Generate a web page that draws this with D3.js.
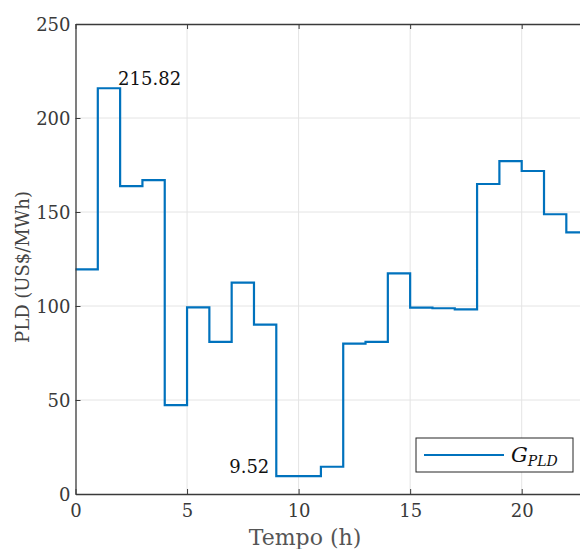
<!DOCTYPE html>
<html>
<head>
<meta charset="utf-8">
<script src="https://cdn.jsdelivr.net/npm/d3@7"></script>
<style>
  body { margin: 0; background: #fff; }
  svg { display: block; font-family: "DejaVu Serif", "Liberation Serif", serif; }
</style>
</head>
<body>
<div id="graphic"></div>
<script>
// hourly PLD prices (US$/MWh), step starts at each hour
const HOURS = [0, 1, 2, 3, 4, 5, 6, 7, 8, 9, 10, 11, 12, 13, 14, 15, 16, 17, 18, 19, 20, 21, 22, 23, 24];
const PLD = [119.5, 215.82, 163.8, 167.0, 47.3, 99.3, 80.9, 112.4, 90.1, 9.52, 9.52, 14.5, 80.0, 80.9, 117.4,
  99.1, 98.8, 98.2, 164.9, 177.1, 171.8, 148.8, 139.2, 139.2, 139.2];
const X_TICKS = [0, 5, 10, 15, 20];
const Y_TICKS = [0, 50, 100, 150, 200, 250];
const LABELS = [
  { hour: 2, value: 215.82, text: "215.82", anchor: "start" },
  { hour: 9, value: 9.52, text: "9.52", anchor: "end" }
];

const FONT = "'DejaVu Serif', 'Liberation Serif', serif";
const WIDTH = 580;
const HEIGHT = 549;
const LEFT = 75.5;
const TOP = 24;
const BOTTOM = 494;
const AXIS_COLOR = "#3a3a3a";
const GRID_COLOR = "#e4e4e4";
const LINE_COLOR = "#0072BD";

var svg = d3.select("#graphic")
  .append("svg")
  .attr("width", WIDTH)
  .attr("height", HEIGHT);

var xScale = d3.scaleLinear()
  .domain([0, 24])
  .range([LEFT, LEFT + 24 * 22.31]);

var yScale = d3.scaleLinear()
  .domain([0, 250])
  .range([BOTTOM, TOP]);

var right = xScale(24);

// grid
svg.append("g")
  .selectAll("line")
  .data(X_TICKS.slice(1))
  .join("line")
  .attr("x1", d => xScale(d)).attr("x2", d => xScale(d))
  .attr("y1", TOP).attr("y2", BOTTOM)
  .attr("stroke", GRID_COLOR);

svg.append("g")
  .selectAll("line")
  .data(Y_TICKS.slice(1, -1))
  .join("line")
  .attr("x1", LEFT).attr("x2", right)
  .attr("y1", d => yScale(d)).attr("y2", d => yScale(d))
  .attr("stroke", GRID_COLOR);

// step series
var series = HOURS.map((h, i) => ({ hour: h, value: PLD[i] }));

var line = d3.line()
  .x(d => xScale(d.hour))
  .y(d => yScale(d.value))
  .curve(d3.curveStepAfter);

svg.append("path")
  .datum(series)
  .attr("fill", "none")
  .attr("stroke", LINE_COLOR)
  .attr("stroke-width", 2.2)
  .attr("d", line);

// axes (ticks inward, box on top)
var xAxis = d3.axisBottom(xScale)
  .tickValues(X_TICKS)
  .tickSizeInner(-5)
  .tickSizeOuter(0)
  .tickPadding(10);

var yAxis = d3.axisLeft(yScale)
  .tickValues(Y_TICKS)
  .tickSizeInner(-5)
  .tickSizeOuter(0)
  .tickPadding(5);

var gx = svg.append("g")
  .attr("transform", `translate(0, ${BOTTOM})`)
  .call(xAxis);

var gy = svg.append("g")
  .attr("transform", `translate(${LEFT}, 0)`)
  .call(yAxis);

var gTop = svg.append("g")
  .attr("transform", `translate(0, ${TOP})`)
  .call(d3.axisTop(xScale).tickValues(X_TICKS).tickSizeInner(-5).tickSizeOuter(0).tickFormat(""));

[gx, gy, gTop].forEach(g => {
  g.attr("font-family", FONT).attr("font-size", 18);
  g.select(".domain").attr("stroke", AXIS_COLOR).attr("stroke-width", 1.3);
  g.selectAll(".tick line").attr("stroke", AXIS_COLOR);
  g.selectAll(".tick text").attr("fill", "#3a3a3a");
});

gy.selectAll(".tick text").attr("dy", "0.35em");

// axis labels
svg.append("text")
  .attr("x", 305)
  .attr("y", 545)
  .attr("text-anchor", "middle")
  .attr("fill", "#555")
  .attr("font-family", FONT)
  .attr("font-size", 22)
  .text("Tempo (h)");

svg.append("text")
  .attr("transform", "translate(29, 267) rotate(-90)")
  .attr("text-anchor", "middle")
  .attr("fill", "#444")
  .attr("font-family", FONT)
  .attr("font-size", 18)
  .text("PLD (US$/MWh)");

// value annotations
svg.append("g")
  .selectAll("text")
  .data(LABELS)
  .join("text")
  .attr("x", d => xScale(d.hour) + (d.anchor == "start" ? -2 : -7))
  .attr("y", d => yScale(d.value) - 3)
  .attr("text-anchor", d => d.anchor)
  .attr("fill", "#111")
  .attr("font-family", FONT)
  .attr("font-size", 18)
  .text(d => d.text);

// legend
var legend = svg.append("g")
  .attr("transform", "translate(416, 438)");

legend.append("rect")
  .attr("width", 157)
  .attr("height", 34)
  .attr("fill", "#fff")
  .attr("stroke", "#262626")
  .attr("stroke-width", 1);

legend.append("line")
  .attr("x1", 8).attr("x2", 88)
  .attr("y1", 17).attr("y2", 17)
  .attr("stroke", LINE_COLOR)
  .attr("stroke-width", 2.2);

var legendText = legend.append("text")
  .attr("x", 95)
  .attr("y", 24)
  .attr("fill", "#111")
  .attr("font-family", FONT)
  .attr("font-style", "italic")
  .attr("font-size", 21);

legendText.append("tspan").text("G");
legendText.append("tspan")
  .attr("dy", 4)
  .attr("font-size", 14)
  .text("PLD");
</script>
</body>
</html>
